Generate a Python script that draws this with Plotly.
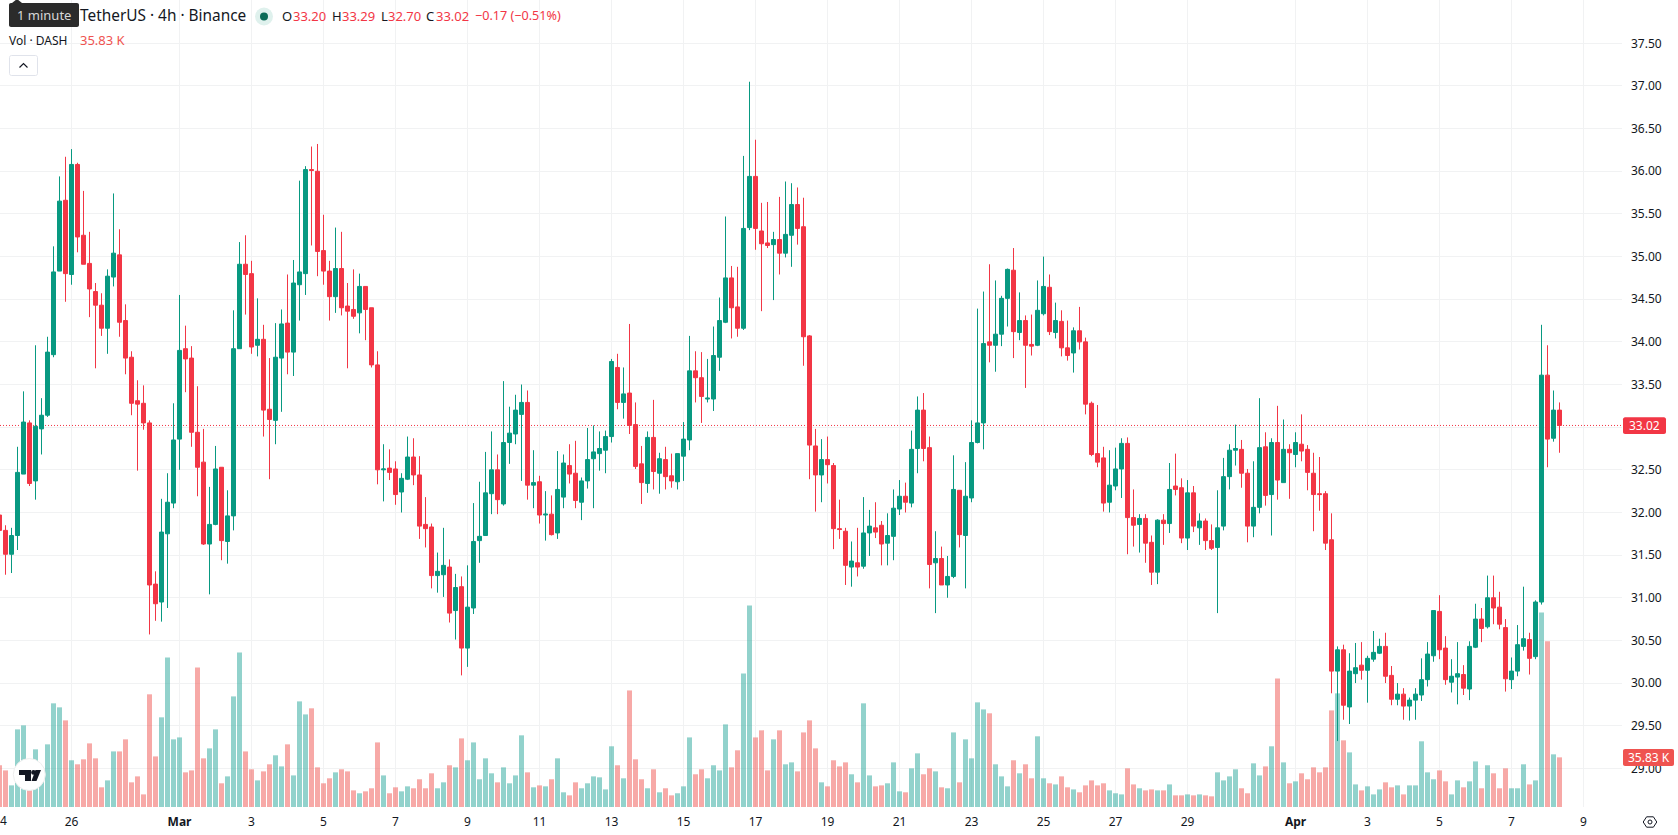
import math

import pandas as pd
import plotly.graph_objects as go

# 4h candles, one row per ten bars
opens = [
    31.97, 31.79, 31.51, 31.73, 32.45, 33.05, 32.37, 32.98, 33.14, 33.85, 34.83, 35.66,
    34.79, 36.08, 35.25, 34.92, 34.59, 34.43, 34.16, 34.76, 35.02, 34.25,
    33.82, 33.31, 33.28, 33.05, 31.16, 30.95, 31.75, 32.11, 32.86, 33.92,
    33.81, 32.94, 32.59, 31.63, 31.86, 32.53, 31.66, 31.96, 33.92, 34.91,
    34.80, 33.96, 34.03, 33.21, 33.08, 33.81, 34.22, 33.88, 34.67, 34.80,
    36.02, 36.00, 35.07, 34.83, 34.53, 34.86, 34.42, 34.38, 34.34, 34.65,
    34.40, 33.73, 32.50, 32.52, 32.51, 32.24, 32.39, 32.65, 32.44, 31.86,
    31.83, 31.26, 31.27, 31.36, 30.85, 31.13, 30.41, 30.88, 31.67, 31.73,
    32.22, 32.50, 32.10, 32.82, 32.92, 33.15, 33.29, 32.32, 32.36, 31.97,
    31.98, 31.76, 32.18, 32.55, 32.46, 32.12, 32.37, 32.63, 32.69, 32.73,
    32.89, 33.70, 33.29, 33.40, 33.03, 32.57, 32.34, 32.88, 32.46, 32.62,
    32.43, 32.36, 32.66, 32.85, 33.66, 33.58, 33.33, 33.33, 33.82, 34.23,
    34.75, 34.41, 34.16, 35.34, 35.94, 35.30, 35.16, 35.14, 35.20, 35.04,
    35.25, 35.61, 35.35, 34.07, 32.78, 32.44, 32.62, 32.55, 31.81, 31.78,
    31.36, 31.41, 31.37, 31.76, 31.82, 31.85, 31.64, 31.72, 32.04, 32.19,
    32.11, 32.75, 33.20, 32.76, 31.41, 31.46, 31.15, 31.25, 32.26, 31.73,
    32.17, 32.82, 33.05, 34.00, 33.96, 34.09, 34.51, 34.84, 34.11, 34.25,
    33.97, 33.96, 34.33, 34.64, 34.11, 34.24, 33.93, 33.87, 34.13, 34.00,
    33.28, 32.69, 32.64, 32.12, 32.31, 32.51, 32.81, 31.94, 31.86, 31.93,
    31.65, 31.30, 31.91, 31.87, 32.31, 32.29, 31.70, 32.23, 31.82, 31.90,
    31.67, 31.59, 31.84, 32.42, 32.73, 32.74, 32.46, 31.84, 32.06, 32.77,
    32.21, 32.82, 32.35, 32.74, 32.68, 32.80, 32.74, 32.46, 32.22, 32.22,
    31.68, 30.14, 30.39, 29.72, 30.11, 30.21, 30.15, 30.28, 30.35, 30.43,
    30.09, 29.81, 29.87, 29.73, 29.80, 29.86, 30.04, 30.32, 30.84, 30.41,
    30.01, 30.07, 30.10, 29.93, 30.42, 30.75, 30.66, 31.00, 30.89, 30.65,
    30.04, 30.14, 30.43, 30.51, 30.31, 30.95, 33.61, 32.87, 33.20,
]
highs = [
    32.05, 31.85, 31.82, 32.77, 33.42, 33.08, 33.96, 33.34, 34.06, 35.12, 35.94, 36.17,
    36.26, 36.10, 35.77, 35.29, 34.69, 34.57, 34.85, 35.74, 35.32, 34.44,
    33.89, 33.55, 33.49, 33.08, 31.31, 32.16, 32.46, 33.28, 34.55, 34.19,
    33.95, 33.48, 32.98, 32.30, 32.78, 32.53, 32.26, 34.37, 35.17, 35.25,
    34.95, 34.51, 34.20, 33.81, 34.22, 34.38, 34.79, 34.96, 35.89, 36.06,
    36.29, 36.32, 35.49, 34.95, 35.34, 35.29, 34.69, 34.85, 34.80, 34.65,
    34.40, 33.89, 32.80, 32.74, 32.60, 32.46, 32.89, 32.87, 32.66, 32.18,
    31.87, 31.53, 31.82, 31.45, 31.28, 31.25, 31.38, 32.11, 32.36, 32.71,
    32.95, 32.68, 33.54, 33.24, 33.38, 33.50, 33.43, 32.73, 32.43, 32.25,
    32.20, 32.72, 32.68, 32.80, 32.84, 32.41, 32.99, 33.02, 32.95, 32.96,
    33.80, 33.86, 33.70, 34.21, 33.29, 32.78, 32.95, 33.32, 32.70, 32.77,
    32.69, 32.69, 33.06, 34.07, 33.89, 33.88, 33.80, 34.18, 34.52, 35.47,
    34.89, 34.88, 36.18, 37.05, 36.37, 35.63, 35.64, 35.29, 35.70, 35.88,
    35.86, 35.81, 35.69, 34.08, 32.98, 32.86, 32.89, 32.58, 32.15, 31.82,
    31.66, 31.82, 32.18, 32.03, 32.12, 31.90, 31.99, 32.27, 32.38, 32.35,
    32.96, 33.36, 33.40, 32.89, 31.78, 31.60, 31.49, 32.67, 32.26, 32.59,
    33.08, 34.39, 34.59, 34.91, 34.72, 34.54, 34.86, 35.10, 34.58, 34.31,
    34.32, 34.72, 35.00, 34.79, 34.46, 34.37, 34.25, 34.17, 34.41, 34.05,
    33.30, 33.26, 32.77, 32.73, 32.76, 32.87, 32.88, 32.27, 31.98, 31.98,
    31.73, 31.92, 31.98, 32.58, 32.69, 32.40, 32.38, 32.31, 31.99, 31.93,
    31.86, 32.26, 32.64, 32.80, 33.03, 32.85, 32.51, 32.60, 33.34, 32.94,
    32.87, 33.25, 33.09, 32.80, 32.94, 33.15, 32.79, 32.70, 32.65, 32.25,
    31.99, 30.43, 30.45, 30.35, 30.47, 30.48, 30.32, 30.61, 30.52, 30.59,
    30.20, 30.00, 29.94, 29.83, 29.94, 30.29, 30.48, 30.85, 31.03, 30.55,
    30.28, 30.48, 30.21, 30.49, 30.93, 30.88, 31.26, 31.26, 31.07, 30.75,
    30.30, 30.68, 31.13, 30.59, 30.97, 34.20, 33.96, 33.43, 33.29,
]
lows = [
    31.70, 31.27, 31.29, 31.56, 32.45, 32.31, 32.15, 32.68, 33.12, 33.82, 34.83, 34.47,
    34.67, 35.05, 34.91, 34.29, 33.69, 34.07, 33.86, 34.65, 34.06, 33.62,
    33.14, 32.49, 32.97, 30.57, 30.73, 30.72, 30.88, 32.05, 32.50, 33.41,
    32.77, 32.19, 31.62, 31.04, 31.85, 31.44, 31.40, 31.79, 33.92, 34.32,
    33.86, 33.83, 32.89, 32.39, 32.80, 33.18, 33.62, 33.60, 34.25, 34.55,
    35.13, 34.77, 34.67, 34.25, 34.34, 34.31, 33.69, 34.27, 34.10, 34.02,
    33.70, 32.33, 32.13, 32.38, 32.09, 32.00, 32.38, 32.32, 31.69, 31.59,
    31.11, 31.06, 31.01, 30.71, 30.51, 30.09, 30.19, 30.81, 31.41, 31.73,
    31.98, 31.98, 32.08, 32.57, 32.80, 32.37, 32.15, 32.05, 31.87, 31.67,
    31.73, 31.69, 32.05, 32.34, 32.05, 31.91, 32.28, 32.05, 32.49, 32.46,
    32.82, 33.21, 33.10, 32.92, 32.51, 32.10, 32.23, 32.27, 32.22, 32.27,
    32.29, 32.27, 32.37, 32.73, 33.29, 33.05, 33.29, 33.19, 33.66, 34.22,
    34.04, 34.06, 34.14, 35.31, 35.08, 34.36, 35.10, 34.49, 34.79, 34.99,
    34.88, 35.14, 33.72, 32.39, 32.01, 32.12, 32.34, 31.57, 31.69, 31.15,
    31.13, 31.25, 31.34, 31.49, 31.70, 31.38, 31.38, 31.44, 31.97, 32.00,
    32.06, 32.46, 32.60, 31.11, 30.82, 31.15, 31.00, 31.23, 31.59, 31.11,
    32.12, 32.81, 32.74, 33.76, 33.65, 33.95, 34.18, 33.81, 34.02, 33.46,
    33.84, 33.95, 34.31, 34.08, 34.04, 33.83, 33.78, 33.64, 33.91, 33.15,
    32.66, 32.53, 32.01, 32.00, 32.26, 32.17, 31.51, 31.60, 31.53, 31.41,
    31.15, 31.16, 31.62, 31.76, 32.20, 31.64, 31.56, 31.77, 31.62, 31.56,
    31.56, 30.82, 31.79, 32.27, 32.55, 32.29, 31.65, 31.71, 31.99, 32.08,
    31.73, 32.15, 32.35, 32.16, 32.53, 32.60, 32.26, 31.78, 32.02, 31.56,
    29.88, 29.32, 29.57, 29.52, 30.00, 30.04, 29.77, 30.25, 30.34, 30.00,
    29.74, 29.74, 29.57, 29.56, 29.57, 29.79, 29.96, 30.25, 30.28, 29.98,
    29.89, 29.75, 29.86, 29.80, 30.41, 30.48, 30.64, 30.69, 30.63, 29.90,
    29.93, 30.08, 30.38, 30.10, 30.28, 30.92, 32.53, 32.83, 32.70,
]
closes = [
    31.79, 31.51, 31.73, 32.47, 33.06, 32.34, 33.01, 33.14, 33.88, 34.82, 35.65, 34.80,
    36.08, 35.23, 34.91, 34.62, 34.43, 34.16, 34.77, 35.04, 34.23, 33.81,
    33.28, 33.27, 33.05, 31.15, 30.93, 31.77, 32.12, 32.85, 33.90, 33.80,
    32.94, 32.53, 31.63, 31.86, 32.51, 31.67, 31.96, 33.92, 34.91, 34.79,
    33.94, 34.03, 33.20, 33.09, 33.82, 34.21, 33.88, 34.69, 34.82, 36.02,
    36.01, 35.06, 34.83, 34.53, 34.86, 34.40, 34.36, 34.30, 34.65, 34.38,
    33.73, 32.50, 32.51, 32.47, 32.21, 32.40, 32.65, 32.44, 31.84, 31.81,
    31.26, 31.31, 31.38, 30.82, 31.12, 30.41, 30.89, 31.66, 31.72, 32.23,
    32.50, 32.15, 32.82, 32.93, 33.20, 33.29, 32.32, 32.35, 31.97, 31.98,
    31.74, 32.27, 32.58, 32.45, 32.14, 32.37, 32.62, 32.71, 32.75, 32.89,
    33.77, 33.29, 33.39, 33.02, 32.54, 32.35, 32.88, 32.48, 32.63, 32.42,
    32.37, 32.69, 32.86, 33.66, 33.58, 33.36, 33.34, 33.84, 34.25, 34.75,
    34.40, 34.16, 35.33, 35.94, 35.33, 35.15, 35.13, 35.20, 35.04, 35.26,
    35.61, 35.33, 34.06, 32.79, 32.44, 32.62, 32.56, 31.81, 31.80, 31.38,
    31.43, 31.36, 31.76, 31.84, 31.77, 31.63, 31.73, 32.05, 32.19, 32.12,
    32.74, 33.20, 32.75, 31.39, 31.46, 31.15, 31.25, 32.27, 31.74, 32.19,
    32.82, 33.05, 33.98, 33.96, 34.09, 34.51, 34.85, 34.12, 34.25, 33.96,
    33.95, 34.37, 34.65, 34.12, 34.25, 33.93, 33.84, 34.13, 34.00, 33.27,
    32.68, 32.59, 32.11, 32.32, 32.51, 32.81, 31.94, 31.85, 31.93, 31.64,
    31.30, 31.91, 31.87, 32.27, 32.27, 31.70, 32.23, 31.84, 31.90, 31.67,
    31.58, 31.82, 32.42, 32.73, 32.75, 32.46, 31.84, 32.06, 32.76, 32.20,
    32.82, 32.38, 32.74, 32.70, 32.82, 32.72, 32.47, 32.21, 32.21, 31.64,
    30.14, 30.39, 29.74, 30.14, 30.18, 30.15, 30.29, 30.36, 30.43, 30.08,
    29.81, 29.87, 29.73, 29.80, 29.87, 30.04, 30.34, 30.85, 30.39, 30.04,
    30.08, 30.11, 29.94, 30.43, 30.75, 30.64, 31.00, 30.88, 30.69, 30.05,
    30.14, 30.45, 30.52, 30.29, 30.95, 33.61, 32.86, 33.20, 33.02,
]
# Volume in thousands of DASH
volumes = [
    30.1, 26.4, 15.6, 56.0, 58.9, 24.0, 41.6, 24.0, 45.2, 74.8, 71.9, 62.5,
    33.7, 30.8, 34.4, 45.9, 35.1, 14.2, 19.2, 40.1, 40.1, 48.8,
    17.8, 22.1, 9.1, 81.3, 36.5, 64.7, 107.9, 48.8, 50.2, 25.0,
    26.4, 100.7, 35.1, 42.3, 56.0, 17.1, 22.1, 79.8, 111.5, 40.1,
    27.2, 19.2, 25.7, 30.8, 37.3, 29.3, 45.2, 22.8, 76.2, 66.8,
    71.2, 28.6, 17.1, 20.7, 25.0, 27.2, 25.7, 12.0, 9.9, 11.3,
    13.5, 46.6, 22.8, 9.9, 14.2, 11.3, 14.9, 13.5, 20.0, 13.5,
    24.3, 13.5, 17.8, 30.1, 28.6, 49.5, 33.7, 46.6, 20.0, 35.1,
    24.3, 17.8, 28.6, 17.1, 22.8, 51.7, 25.0, 14.2, 15.6, 14.9,
    20.0, 35.1, 10.6, 8.4, 17.8, 13.5, 17.1, 22.1, 21.4, 12.7,
    43.8, 30.1, 20.7, 84.1, 34.4, 20.0, 13.5, 27.2, 10.6, 13.5,
    8.4, 9.9, 14.9, 50.2, 23.6, 27.2, 20.7, 30.1, 26.4, 59.6,
    28.6, 40.9, 96.4, 145.4, 50.2, 55.3, 26.4, 48.8, 55.3, 30.8,
    32.2, 25.7, 53.8, 62.5, 42.3, 17.8, 14.9, 33.7, 29.3, 32.2,
    23.6, 17.8, 74.8, 22.8, 14.9, 15.6, 17.1, 32.2, 11.3, 10.6,
    27.9, 38.7, 23.6, 27.9, 25.7, 14.2, 13.5, 53.8, 17.8, 48.8,
    35.1, 75.5, 70.4, 67.6, 30.8, 22.1, 14.9, 33.7, 24.3, 30.8,
    20.7, 51.0, 20.7, 17.1, 16.3, 22.1, 14.2, 12.7, 10.6, 15.6,
    19.2, 15.6, 17.1, 12.0, 9.9, 9.1, 27.9, 16.3, 13.5, 12.0,
    12.7, 12.0, 12.0, 16.3, 8.4, 8.4, 9.1, 8.4, 9.1, 8.4,
    7.7, 25.0, 19.2, 22.1, 27.2, 13.5, 9.9, 31.5, 22.8, 29.3,
    43.8, 92.8, 32.2, 17.1, 18.5, 24.3, 20.0, 28.6, 25.0, 28.6,
    69.7, 82.0, 48.1, 39.4, 16.3, 12.0, 14.9, 9.1, 12.7, 17.8,
    14.2, 15.6, 9.1, 15.6, 15.6, 47.4, 25.0, 20.0, 26.4, 18.5,
    9.1, 19.2, 14.2, 18.5, 32.9, 13.5, 30.1, 24.3, 13.5, 27.9,
    13.5, 13.5, 30.8, 16.3, 19.2, 140.4, 119.5, 38.0, 35.83,
]
assert len(opens) == len(highs) == len(lows) == len(closes) == len(volumes)

times = pd.date_range("2025-02-24 00:00", periods=len(opens), freq="4h")

price_ticks = [29.0, 29.5, 30.0, 30.5, 31.0, 31.5, 32.0, 32.5, 33.0, 33.5,
               34.0, 34.5, 35.0, 35.5, 36.0, 36.5, 37.0, 37.5]
date_ticks = ["2025-02-26", "2025-03-01", "2025-03-03", "2025-03-05", "2025-03-07",
              "2025-03-09", "2025-03-11", "2025-03-13", "2025-03-15", "2025-03-17",
              "2025-03-19", "2025-03-21", "2025-03-23", "2025-03-25", "2025-03-27",
              "2025-03-29", "2025-04-01", "2025-04-03", "2025-04-05", "2025-04-07",
              "2025-04-09"]
date_labels = ["26", "<b>Mar</b>", "3", "5", "7", "9", "11", "13", "15", "17", "19",
               "21", "23", "25", "27", "29", "<b>Apr</b>", "3", "5", "7", "9"]

last_price = 33.02
last_volume = 35.83

UP = "#089981"
DOWN = "#F23645"
UP_VOL = "rgba(38,166,154,0.5)"
DOWN_VOL = "rgba(239,83,80,0.5)"
GRID = "#f1f2f3"
INK = "#131722"
FONT = "Noto Sans, sans-serif"

PANE_W = 1622
PANE_H = 807


def fx(x):
    return x / PANE_W


def fy(y):
    return 1 - y / PANE_H


def poly(points, close=True):
    body = " L ".join(f"{fx(x):.5f} {fy(y):.5f}" for x, y in points)
    return "M " + body + (" Z" if close else "")


def round_rect(x0, y0, x1, y1, r):
    pts = []
    corners = [(x1 - r, y0 + r, -90), (x1 - r, y1 - r, 0), (x0 + r, y1 - r, 90), (x0 + r, y0 + r, 180)]
    for cx, cy, start in corners:
        for k in range(5):
            a = math.radians(start + k * 22.5)
            pts.append((cx + r * math.cos(a), cy + r * math.sin(a)))
    return poly(pts)


def disc(cx, cy, r):
    return dict(type="circle", xref="paper", yref="paper",
                x0=fx(cx - r), x1=fx(cx + r), y0=fy(cy + r), y1=fy(cy - r))


def label(x, y, text, color=INK, size=13, anchor="left", **kw):
    return dict(xref="paper", yref="paper", x=fx(x), y=fy(y), text=text, showarrow=False,
                xanchor=anchor, yanchor="middle", font=dict(family=FONT, size=size, color=color),
                borderpad=0, borderwidth=0, **kw)


fig = go.Figure()

fig.add_trace(go.Bar(
    x=times, y=volumes, yaxis="y",
    marker=dict(color=[UP_VOL if c >= o else DOWN_VOL for o, c in zip(opens, closes)], line_width=0),
    showlegend=False,
))
fig.add_trace(go.Candlestick(
    x=times, open=opens, high=highs, low=lows, close=closes, yaxis="y2",
    increasing=dict(line=dict(color=UP, width=1), fillcolor=UP),
    decreasing=dict(line=dict(color=DOWN, width=1), fillcolor=DOWN),
    whiskerwidth=0, showlegend=False,
))

shapes = [
    # last-price marker line and its axis tag
    dict(type="line", xref="paper", yref="y2", x0=0, x1=1, y0=last_price, y1=last_price,
         line=dict(color=DOWN, width=1, dash="1px,2px"), layer="below"),
    dict(type="path", xref="paper", yref="paper", path=round_rect(1623, 417.3, 1666, 434, 2),
         fillcolor=DOWN, line_width=0),
    dict(type="path", xref="paper", yref="paper", path=round_rect(1623, 749, 1674, 766, 2),
         fillcolor="#ef5350", line_width=0),
    # tooltip over the symbol name
    dict(type="path", xref="paper", yref="paper",
         path=round_rect(9, 3, 79, 27, 2), fillcolor="#2b2b2b", line_width=0),
    dict(type="path", xref="paper", yref="paper",
         path=poly([(12, 3), (17, -1), (22, 3)]), fillcolor="#2b2b2b", line_width=0),
    # market-status dot
    dict(disc(264, 16.5, 9), fillcolor="#dff1ed", line_width=0),
    dict(disc(264, 16.5, 4), fillcolor="#0b6b57", line_width=0),
    # collapse button
    dict(type="path", xref="paper", yref="paper", path=round_rect(9.5, 55.5, 37.5, 75.5, 2),
         fillcolor="#ffffff", line=dict(color="#e0e3eb", width=1)),
    dict(type="path", xref="paper", yref="paper", path=poly([(19.5, 67.5), (23.5, 63.5), (27.5, 67.5)], close=False),
         line=dict(color=INK, width=1.2)),
    # broker badge
    dict(disc(29.3, 774.5, 16), fillcolor="#ffffff", line=dict(color="#eeeeee", width=1)),
    dict(type="path", xref="paper", yref="paper",
         path=poly([(19, 770), (31, 770), (31, 781), (25, 781), (25, 775), (19, 775)]),
         fillcolor="#131722", line_width=0),
    dict(disc(33.5, 772.4, 2.4), fillcolor="#131722", line_width=0),
    dict(type="path", xref="paper", yref="paper",
         path=poly([(35.5, 770), (41, 770), (36.5, 781), (31.5, 781)]),
         fillcolor="#131722", line_width=0),
    # settings glyph on the corner of the axes
    dict(type="path", xref="paper", yref="paper",
         path=poly([(1643.2, 822), (1646.6, 816.8), (1653.4, 816.8), (1656.8, 822), (1653.4, 827.2), (1646.6, 827.2)]),
         line=dict(color=INK, width=1)),
    dict(disc(1650, 822, 2), line=dict(color=INK, width=1)),
]

annotations = [
    label(9 + 35, 15.5, "1 minute", color="#d8d8d8", size=13, anchor="center"),
    label(80, 16, "TetherUS · 4h · Binance", size=15.4),
    label(281.5, 16, "O"), label(292.5, 16, "33.20", color=DOWN),
    label(331.5, 16, "H"), label(341.5, 16, "33.29", color=DOWN),
    label(380.5, 16, "L"), label(388, 16, "32.70", color=DOWN),
    label(426.5, 16, "C"), label(435.5, 16, "33.02", color=DOWN),
    label(474.5, 16, "−0.17 (−0.51%)", color=DOWN, size=12.6),
    label(9, 40.5, "Vol · DASH", size=12),
    label(80, 40.5, "35.83 K", color="#ef5350"),
    label(1644.5, 425.7, "33.02", color="#ffffff", size=12, anchor="center"),
    label(1648.5, 757.5, "35.83 K", color="#ffffff", size=12, anchor="center"),
    # right half of the day label cut off by the left edge
    label(0, 821, "4", size=12),
]

fig.update_layout(
    width=1678, height=835,
    margin=dict(l=0, r=1678 - PANE_W, t=0, b=835 - PANE_H, pad=0),
    paper_bgcolor="#ffffff", plot_bgcolor="#ffffff",
    bargap=1 / 6, boxmode="overlay", boxgap=1 / 3, boxgroupgap=0,
    showlegend=False, hovermode=False,
    font=dict(family=FONT, size=12, color=INK),
    xaxis=dict(
        type="date", range=["2025-02-24 00:20", "2025-04-10 01:40"],
        rangeslider=dict(visible=False),
        tickmode="array", tickvals=date_ticks, ticktext=date_labels,
        showgrid=True, gridcolor=GRID, gridwidth=1, ticks="", showline=False, zeroline=False,
        ticklabelstandoff=6, tickfont=dict(family=FONT, size=12, color=INK),
    ),
    yaxis=dict(range=[0, PANE_H / 1.386], visible=False, fixedrange=True),
    yaxis2=dict(
        overlaying="y", side="right", range=[28.547, 38.008],
        tickmode="array", tickvals=price_ticks, ticktext=[f"{v:.2f}" for v in price_ticks],
        showgrid=True, gridcolor=GRID, gridwidth=1, ticks="", showline=False, zeroline=False,
        ticklabelstandoff=8, tickfont=dict(family=FONT, size=12, color=INK),
    ),
    shapes=shapes, annotations=annotations,
)

fig.write_html("out.html")
